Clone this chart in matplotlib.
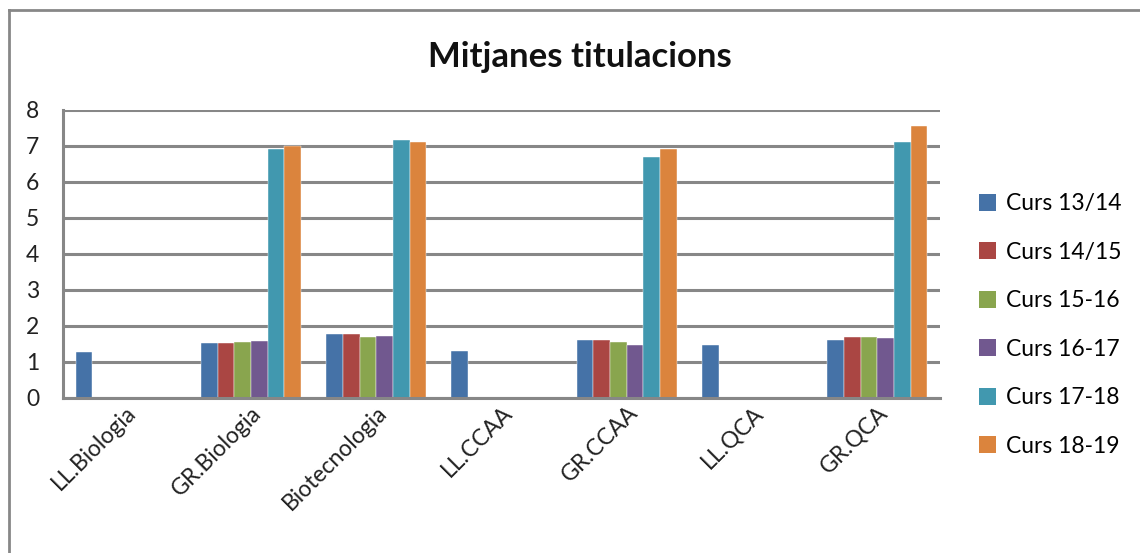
import matplotlib
matplotlib.use("Agg")
import matplotlib.pyplot as plt
from matplotlib.lines import Line2D
from matplotlib.patches import Patch
import numpy as np

# categories and series
titulacions = ["LL.Biologia", "GR.Biologia", "Biotecnologia", "LL.CCAA", "GR.CCAA", "LL.QCA", "GR.QCA"]
cursos = ["Curs 13/14", "Curs 14/15", "Curs 15-16", "Curs 16-17", "Curs 17-18", "Curs 18-19"]
curs_13_14 = [1.27, 1.52, 1.77, 1.31, 1.62, 1.48, 1.60]
curs_14_15 = [0, 1.52, 1.77, 0, 1.60, 0, 1.70]
curs_15_16 = [0, 1.55, 1.69, 0, 1.56, 0, 1.70]
curs_16_17 = [0, 1.59, 1.73, 0, 1.48, 0, 1.66]
curs_17_18 = [0, 6.93, 7.18, 0, 6.70, 0, 7.10]
curs_18_19 = [0, 6.99, 7.10, 0, 6.91, 0, 7.55]
yticks = [0, 1, 2, 3, 4, 5, 6, 7, 8]

colors = ["#4572A7", "#AA4643", "#89A54E", "#71588F", "#4198AF", "#DB843D"]
series = [curs_13_14, curs_14_15, curs_15_16, curs_16_17, curs_17_18, curs_18_19]

plt.rcParams['font.family'] = ['Lato', 'DejaVu Sans']

W, H = 1140, 553
fig = plt.figure(figsize=(W/100, H/100), dpi=100)
ax = fig.add_axes([63/W, (H-398)/H, 877/W, 288/H])

x = np.arange(len(titulacions))
bw = 0.8/len(series)
for i, vals in enumerate(series):
    ax.bar(x - 0.4 + bw*(i+0.5), vals, width=bw, color=colors[i], zorder=3,
           edgecolor="white", linewidth=0.3)

ax.set_xlim(-0.5, len(titulacions)-0.5)
ax.set_ylim(0, 8)
ax.set_yticks(yticks)
ax.set_yticklabels([str(t) for t in yticks], fontsize=16.5, color="#222222")
ax.set_xticks(x)
ax.set_xticklabels(titulacions, rotation=45, ha="right", rotation_mode="anchor",
                   fontsize=16.5, color="#222222")
ax.tick_params(axis="both", length=0)
ax.tick_params(axis="y", pad=17)
ax.tick_params(axis="x", pad=3)
ax.grid(axis="y", color="#878787", linewidth=2.2, zorder=0)
for s in ["right", "top"]:
    ax.spines[s].set_visible(False)
ax.spines["left"].set_color("#878787")
ax.spines["left"].set_linewidth(2.2)
ax.spines["bottom"].set_color("#878787")
ax.spines["bottom"].set_linewidth(2.2)
ax.spines["bottom"].set_zorder(4)

fig.text(580/W, 1-57/H, "Mitjanes titulacions", ha="center", va="center",
         fontsize=25, fontweight="bold", color="#111111")

handles = [Patch(facecolor=c, edgecolor="none") for c in colors]
fig.legend(handles, cursos, loc="upper left", bbox_to_anchor=(970/W, 1-184/H),
           frameon=False, fontsize=16.5, handlelength=0.75, handleheight=0.75,
           handletextpad=0.4, labelspacing=1.2, borderaxespad=0)

# outer chart border (left and top edges visible)
fig.add_artist(Line2D([8.5/W, 8.5/W], [0, 1-10/H], color="#878787", linewidth=2))
fig.add_artist(Line2D([8.5/W, 1], [1-10/H, 1-10/H], color="#878787", linewidth=2))

fig.savefig("out.png", dpi=100)
